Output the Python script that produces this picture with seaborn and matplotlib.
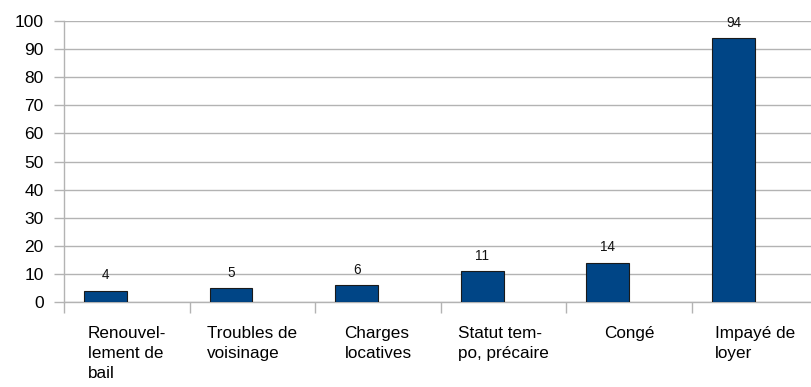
import matplotlib
matplotlib.use("Agg")
import matplotlib.pyplot as plt
import seaborn as sns
import pandas as pd
import numpy as np

categories = ["Renouvel-\nlement de\nbail", "Troubles de\nvoisinage", "Charges\nlocatives",
              "Statut tem-\npo, précaire", "Congé", "Impayé de\nloyer"]
values = [4, 5, 6, 11, 14, 94]
series = ["Nombre"] * len(categories)
y_ticks = list(range(0, 101, 10))

sns.set_theme(style="white")
plt.rcParams['font.family'] = ['Liberation Sans', 'DejaVu Sans']

df = pd.DataFrame({"cat": categories, "val": values, "serie": series})

fig = plt.figure(figsize=(8.11, 3.87), dpi=100)
ax = fig.add_axes([64/811, 85/387, 753.6/811, 281/387])

sns.barplot(data=df, x="cat", y="val", hue="serie", hue_order=["Nombre", "_vide"],
            order=categories, palette=["#004586", "#ff420e"], saturation=1, width=0.68, dodge=True,
            edgecolor="#1a1a1a", linewidth=0.8, legend=False, ax=ax, zorder=3)

for c in ax.containers:
    ax.bar_label(c, labels=[f"{v:g}" for v in c.datavalues], padding=6, fontsize=9.8, color="#111111")

ax.set_xlim(-0.5, len(categories) - 0.5)
ax.set_ylim(0, 100)
ax.set_yticks(y_ticks)
ax.set_yticklabels([str(t) for t in y_ticks], fontsize=12.5, color="#000000")
ax.yaxis.grid(True, color="#b3b3b3", linewidth=1, zorder=0)
ax.set_axisbelow(True)
ax.tick_params(axis="y", which="major", length=7.5, color="#b3b3b3", width=1, pad=7, left=True)

ax.set_xticks(range(len(categories)))
ax.set_xticklabels(categories, fontsize=12.3, color="#000000", linespacing=1.42,
                   multialignment="left", ha="center", va="top")
ax.set_xticks(np.arange(-0.5, len(categories), 1.0), minor=True)
ax.tick_params(axis="x", which="major", length=0, pad=17)
ax.tick_params(axis="x", which="minor", length=8, color="#b3b3b3", width=1, bottom=True)

ax.set_xlabel("")
ax.set_ylabel("")
for s in ["top", "right"]:
    ax.spines[s].set_visible(False)
for s in ["left", "bottom"]:
    ax.spines[s].set_color("#b3b3b3")
    ax.spines[s].set_linewidth(1)

fig.savefig("out.png", dpi=100)
